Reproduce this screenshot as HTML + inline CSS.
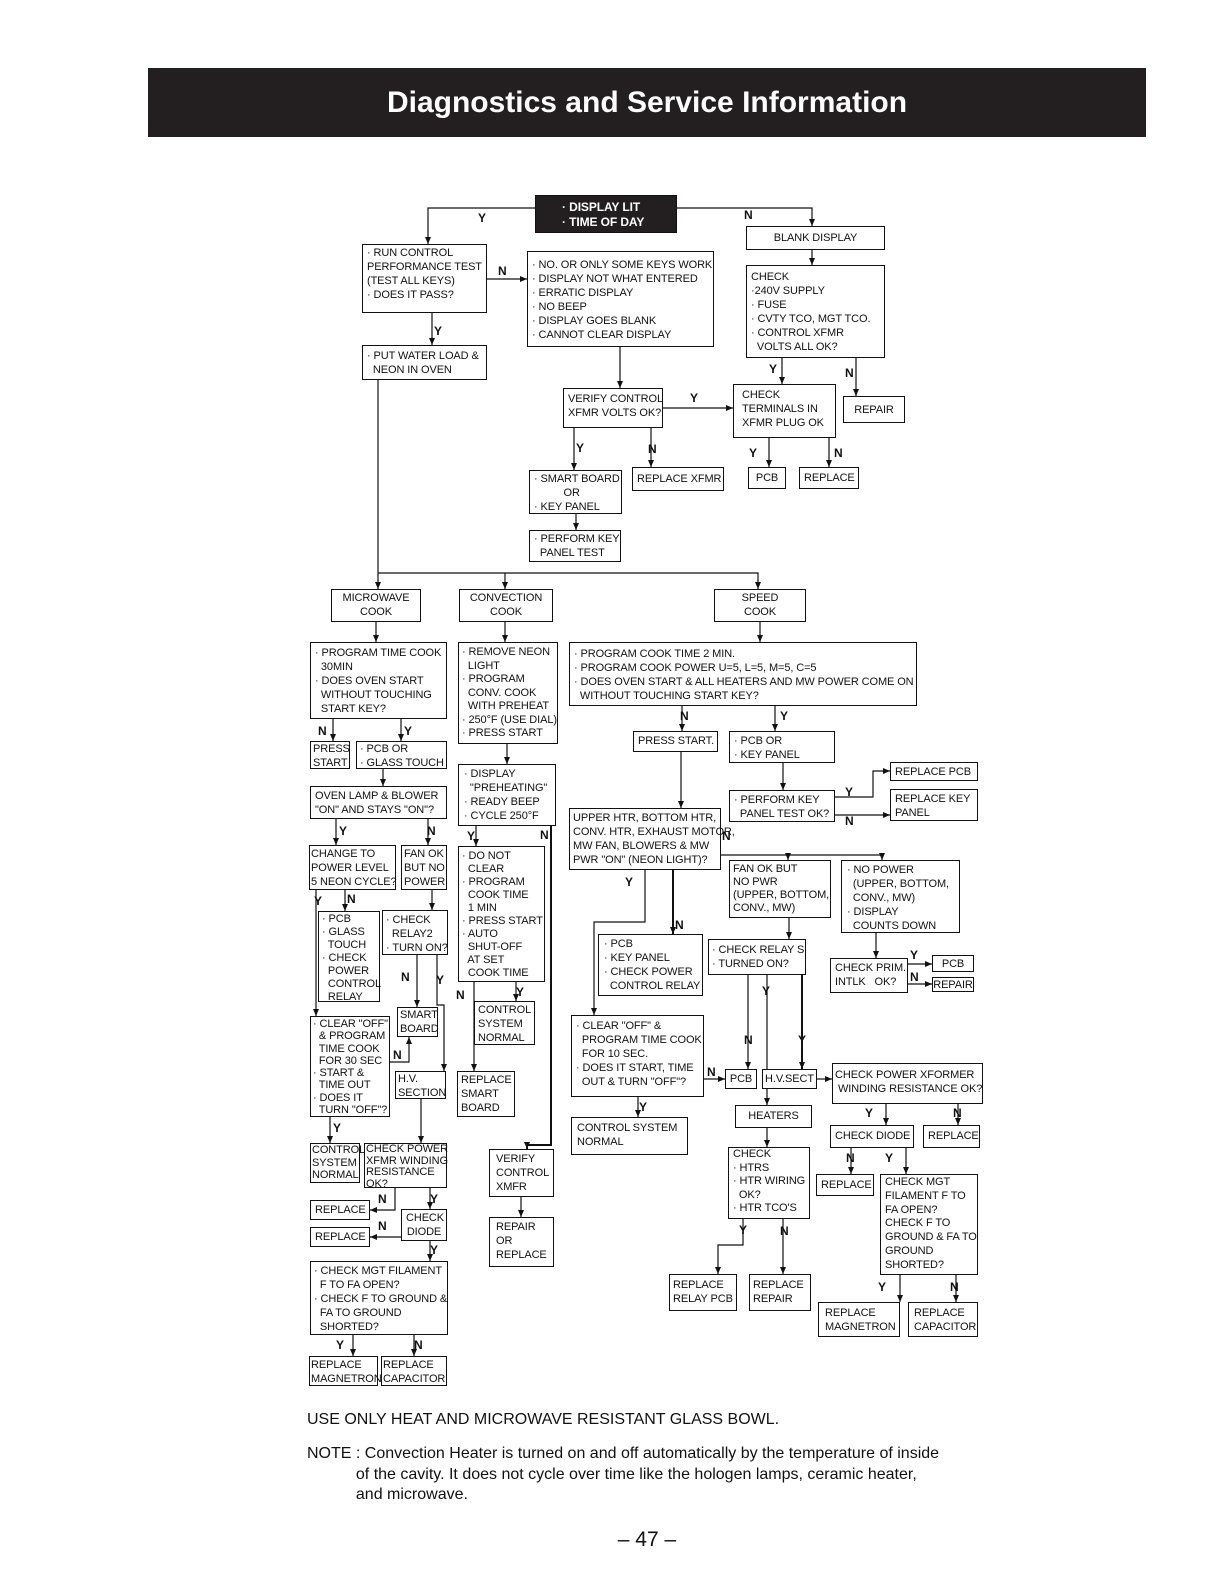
<!DOCTYPE html>
<html><head><meta charset="utf-8"><style>
body{margin:0;background:#fff;}
#p{position:relative;width:1224px;height:1584px;overflow:hidden;font-family:"Liberation Sans",sans-serif;color:#111;}
.b{position:absolute;border:1.3px solid #111;box-sizing:border-box;font-size:11px;line-height:14px;padding:1px 4px;white-space:pre;background:#fff;letter-spacing:-0.1px;}
.c{text-align:center;}
.l{position:absolute;font-size:12px;font-weight:bold;}
svg{position:absolute;left:0;top:0;}
</style></head><body><div id="p">
<div style="position:absolute;left:148px;top:68px;width:998px;height:69px;background:#231f20;color:#fff;font-weight:bold;font-size:30px;line-height:69px;text-align:center;">Diagnostics and Service Information</div>

<svg width="1224" height="1584">
<defs><marker id="a" markerWidth="8" markerHeight="8" refX="7" refY="4" orient="auto" markerUnits="userSpaceOnUse"><path d="M0,1 L7,4 L0,7 z" fill="#111"/></marker></defs>
<g fill="none" stroke="#111" stroke-width="1.2" marker-end="url(#a)">
<polyline points="535,208 428,208 428,244"/>
<polyline points="677,208 812,208 812,226"/>
<polyline points="812,250 812,265"/>
<polyline points="487,279 527,279"/>
<polyline points="432,313 432,345"/>
<polyline points="620,347 620,388"/>
<polyline points="782,358 782,384"/>
<polyline points="856,358 856,396"/>
<polyline points="663,408 733,408"/>
<polyline points="574,428 574,470"/>
<polyline points="651,428 651,467"/>
<polyline points="769,438 769,467"/>
<polyline points="829,438 829,467"/>
<polyline points="576,514 576,530"/>
<polyline points="378,380 378,589"/>
<polyline points="505,573 505,589"/>
<polyline points="378,573 758,573 758,589"/>
<polyline points="376,622 376,642"/>
<polyline points="333,719 333,741"/>
<polyline points="401,719 401,741"/>
<polyline points="383,769 383,786"/>
<polyline points="336,819 336,845"/>
<polyline points="428,819 428,845"/>
<polyline points="316,890 316,1016"/>
<polyline points="345,890 345,911"/>
<polyline points="432,890 432,910"/>
<polyline points="417,955 417,1007"/>
<polyline points="437,955 437,1005 444,1005 444,1071"/>
<polyline points="390,1062 409,1062 409,1037"/>
<polyline points="421,1099 421,1143"/>
<polyline points="330,1117 330,1143"/>
<polyline points="395,1188 395,1210 370,1210"/>
<polyline points="430,1188 430,1209"/>
<polyline points="401,1237 370,1237"/>
<polyline points="430,1241 430,1261"/>
<polyline points="353,1335 353,1356"/>
<polyline points="414,1335 414,1356"/>
<polyline points="505,622 505,642"/>
<polyline points="507,744 507,764"/>
<polyline points="476,826 476,846"/>
<polyline points="551,826 551,1145 527,1145 527,1149" stroke-width="2"/>
<polyline points="516,982 516,1001"/>
<polyline points="474,982 474,1071"/>
<polyline points="521,1197 521,1217"/>
<polyline points="760,622 760,642"/>
<polyline points="682,706 682,731"/>
<polyline points="775,706 775,731"/>
<polyline points="681,752 681,808"/>
<polyline points="783,763 783,790"/>
<polyline points="835,797 873,797 873,771 890,771"/>
<polyline points="835,815 890,815"/>
<polyline points="721,855 882,855 882,860"/>
<polyline points="788,855 788,860"/>
<polyline points="645,870 645,922 594,922 594,1015"/>
<polyline points="673,870 673,934" stroke-width="2"/>
<polyline points="789,918 789,939"/>
<polyline points="876,933 876,958"/>
<polyline points="908,964 932,964"/>
<polyline points="908,984 932,984"/>
<polyline points="748,975 748,1069"/>
<polyline points="767,975 767,1105"/>
<polyline points="802,975 802,1069" stroke-width="2"/>
<polyline points="704,1079 725,1079"/>
<polyline points="638,1097 638,1117"/>
<polyline points="817,1079 832,1079"/>
<polyline points="767,1128 767,1147"/>
<polyline points="886,1104 886,1125"/>
<polyline points="958,1104 958,1125"/>
<polyline points="851,1148 851,1174"/>
<polyline points="906,1148 906,1174"/>
<polyline points="743,1219 743,1245 718,1245 718,1274"/>
<polyline points="783,1219 783,1274"/>
<polyline points="900,1275 900,1302"/>
<polyline points="956,1275 956,1302"/>
</g></svg>

<div class="b" style="left:535px;top:195px;width:142px;height:38px;background:#231f20;color:#fff;font-weight:bold;font-size:12px;line-height:15px;padding:4px 0 0 26px;">· DISPLAY LIT
· TIME OF DAY</div>
<div class="b" style="left:362px;top:244px;width:125px;height:69px;">· RUN CONTROL
PERFORMANCE TEST
(TEST ALL KEYS)
· DOES IT PASS?</div>
<div class="b" style="left:527px;top:251px;width:187px;height:96px;padding-top:6px;">· NO. OR ONLY SOME KEYS WORK
· DISPLAY NOT WHAT ENTERED
· ERRATIC DISPLAY
· NO BEEP
· DISPLAY GOES BLANK
· CANNOT CLEAR DISPLAY</div>
<div class="b c" style="left:746px;top:226px;width:139px;height:24px;padding-top:4px;">BLANK DISPLAY</div>
<div class="b" style="left:746px;top:265px;width:139px;height:93px;padding-top:4px;">CHECK
·240V SUPPLY
· FUSE
· CVTY TCO, MGT TCO.
· CONTROL XFMR
  VOLTS ALL OK?</div>
<div class="b" style="left:362px;top:345px;width:125px;height:35px;padding-top:3px;">· PUT WATER LOAD &amp;
  NEON IN OVEN</div>
<div class="b" style="left:563px;top:388px;width:100px;height:40px;padding-top:3px;">VERIFY CONTROL
XFMR VOLTS OK?</div>
<div class="b" style="left:733px;top:384px;width:103px;height:54px;padding:3px 8px;">CHECK
TERMINALS IN
XFMR PLUG OK</div>
<div class="b c" style="left:843px;top:396px;width:62px;height:27px;padding-top:6px;">REPAIR</div>
<div class="b" style="left:529px;top:470px;width:93px;height:44px;padding-top:1px;">· SMART BOARD
          OR
· KEY PANEL</div>
<div class="b c" style="left:632px;top:467px;width:92px;height:24px;padding-top:4px;">REPLACE XFMR</div>
<div class="b c" style="left:748px;top:467px;width:38px;height:22px;padding-top:3px;">PCB</div>
<div class="b c" style="left:799px;top:467px;width:60px;height:22px;padding-top:3px;">REPLACE</div>
<div class="b" style="left:529px;top:530px;width:92px;height:32px;">· PERFORM KEY
  PANEL TEST</div>

<div class="b c" style="left:331px;top:589px;width:90px;height:33px;">MICROWAVE
COOK</div>
<div class="b c" style="left:459px;top:589px;width:94px;height:33px;">CONVECTION
COOK</div>
<div class="b c" style="left:714px;top:589px;width:92px;height:33px;">SPEED
COOK</div>
<div class="b" style="left:310px;top:642px;width:137px;height:77px;padding-top:3px;">· PROGRAM TIME COOK
  30MIN
· DOES OVEN START
  WITHOUT TOUCHING
  START KEY?</div>
<div class="b" style="left:458px;top:642px;width:100px;height:102px;padding:3px 2px 0 3px;line-height:13.5px;">· REMOVE NEON
  LIGHT
· PROGRAM
  CONV. COOK
  WITH PREHEAT
· 250°F (USE DIAL)
· PRESS START</div>
<div class="b" style="left:569px;top:642px;width:348px;height:64px;padding-top:4px;">· PROGRAM COOK TIME 2 MIN.
· PROGRAM COOK POWER U=5, L=5, M=5, C=5
· DOES OVEN START &amp; ALL HEATERS AND MW POWER COME ON
  WITHOUT TOUCHING START KEY?</div>
<div class="b" style="left:310px;top:741px;width:40px;height:28px;padding:0 2px;">PRESS
START</div>
<div class="b" style="left:356px;top:741px;width:91px;height:28px;padding:0 3px;">· PCB OR
· GLASS TOUCH</div>
<div class="b" style="left:310px;top:786px;width:137px;height:33px;padding-top:2px;">OVEN LAMP &amp; BLOWER
"ON" AND STAYS "ON"?</div>
<div class="b" style="left:458px;top:764px;width:98px;height:62px;padding:2px 5px;">· DISPLAY
  "PREHEATING"
· READY BEEP
· CYCLE 250°F</div>
<div class="b" style="left:633px;top:731px;width:85px;height:21px;padding-top:2px;">PRESS START.</div>
<div class="b" style="left:729px;top:731px;width:106px;height:32px;padding-top:2px;">· PCB OR
· KEY PANEL</div>
<div class="b" style="left:729px;top:790px;width:106px;height:32px;padding-top:2px;">· PERFORM KEY
  PANEL TEST OK?</div>
<div class="b" style="left:890px;top:762px;width:88px;height:19px;padding-top:2px;">REPLACE PCB</div>
<div class="b" style="left:890px;top:789px;width:88px;height:32px;padding-top:2px;">REPLACE KEY
PANEL</div>
<div class="b" style="left:569px;top:808px;width:152px;height:62px;padding:2px 3px;">UPPER HTR, BOTTOM HTR,
CONV. HTR, EXHAUST MOTOR,
MW FAN, BLOWERS &amp; MW
PWR "ON" (NEON LIGHT)?</div>
<div class="b" style="left:309px;top:845px;width:87px;height:45px;padding:1px 1px;">CHANGE TO
POWER LEVEL
5 NEON CYCLE?</div>
<div class="b" style="left:401px;top:845px;width:46px;height:45px;padding:1px 2px;">FAN OK
BUT NO
POWER</div>
<div class="b" style="left:458px;top:846px;width:87px;height:136px;padding:3px 3px;line-height:13px;">· DO NOT
  CLEAR
· PROGRAM
  COOK TIME
  1 MIN
· PRESS START
· AUTO
  SHUT-OFF
  AT SET
  COOK TIME</div>
<div class="b" style="left:729px;top:860px;width:102px;height:58px;padding:2px 3px;line-height:13px;">FAN OK BUT
NO PWR
(UPPER, BOTTOM,
CONV., MW)</div>
<div class="b" style="left:841px;top:860px;width:119px;height:73px;padding:2px 5px;">· NO POWER
  (UPPER, BOTTOM,
  CONV., MW)
· DISPLAY
  COUNTS DOWN</div>
<div class="b" style="left:318px;top:911px;width:62px;height:91px;padding:1px 3px;line-height:13px;">· PCB
· GLASS
  TOUCH
· CHECK
  POWER
  CONTROL
  RELAY</div>
<div class="b" style="left:382px;top:910px;width:66px;height:45px;padding:2px 3px;">· CHECK
  RELAY2
· TURN ON?</div>
<div class="b" style="left:598px;top:934px;width:105px;height:62px;padding:2px 5px;">· PCB
· KEY PANEL
· CHECK POWER
  CONTROL RELAY</div>
<div class="b" style="left:708px;top:939px;width:98px;height:36px;padding:3px 3px;">· CHECK RELAY S
· TURNED ON?</div>
<div class="b" style="left:830px;top:958px;width:78px;height:35px;padding:2px 4px;">CHECK PRIM.
INTLK   OK?</div>
<div class="b c" style="left:932px;top:955px;width:42px;height:17px;padding-top:1px;">PCB</div>
<div class="b c" style="left:932px;top:977px;width:42px;height:15px;padding:0;">REPAIR</div>
<div class="b" style="left:474px;top:1001px;width:61px;height:44px;padding:1px 3px;">CONTROL
SYSTEM
NORMAL</div>
<div class="b" style="left:397px;top:1007px;width:41px;height:30px;padding:0 2px;">SMART
BOARD</div>
<div class="b" style="left:310px;top:1016px;width:80px;height:101px;padding:1px 2px;line-height:12.3px;">· CLEAR "OFF"
  &amp; PROGRAM
  TIME COOK
  FOR 30 SEC
· START &amp;
  TIME OUT
· DOES IT
  TURN "OFF"?</div>
<div class="b" style="left:395px;top:1071px;width:51px;height:28px;padding:0 2px;">H.V.
SECTION</div>
<div class="b" style="left:457px;top:1071px;width:58px;height:46px;padding:1px 3px;">REPLACE
SMART
BOARD</div>
<div class="b" style="left:571px;top:1015px;width:133px;height:82px;padding:3px 4px;">· CLEAR "OFF" &amp;
  PROGRAM TIME COOK
  FOR 10 SEC.
· DOES IT START, TIME
  OUT &amp; TURN "OFF"?</div>
<div class="b c" style="left:725px;top:1069px;width:32px;height:20px;padding:2px 0;">PCB</div>
<div class="b c" style="left:762px;top:1069px;width:55px;height:20px;padding:2px 0;">H.V.SECT</div>
<div class="b" style="left:832px;top:1063px;width:151px;height:41px;padding:4px 2px;">CHECK POWER XFORMER
 WINDING RESISTANCE OK?</div>
<div class="b c" style="left:735px;top:1105px;width:77px;height:23px;padding-top:3px;">HEATERS</div>
<div class="b" style="left:571px;top:1117px;width:117px;height:38px;padding:3px 5px;">CONTROL SYSTEM
NORMAL</div>
<div class="b c" style="left:830px;top:1125px;width:84px;height:23px;padding-top:3px;">CHECK DIODE</div>
<div class="b c" style="left:923px;top:1125px;width:57px;height:23px;padding-top:3px;">REPLACE</div>
<div class="b" style="left:310px;top:1143px;width:50px;height:40px;padding:0 1px;line-height:12.5px;">CONTROL
SYSTEM
NORMAL</div>
<div class="b" style="left:364px;top:1143px;width:83px;height:45px;padding:0 1px;line-height:11.5px;">CHECK POWER
XFMR WINDING
RESISTANCE
OK?</div>
<div class="b" style="left:489px;top:1149px;width:65px;height:48px;padding:2px 6px;">VERIFY
CONTROL
XMFR</div>
<div class="b" style="left:728px;top:1147px;width:82px;height:72px;padding:0 4px;line-height:13.5px;">CHECK
· HTRS
· HTR WIRING
  OK?
· HTR TCO'S</div>
<div class="b c" style="left:816px;top:1174px;width:58px;height:22px;padding-top:3px;">REPLACE</div>
<div class="b" style="left:880px;top:1174px;width:98px;height:101px;padding:1px 4px;line-height:13.8px;">CHECK MGT
FILAMENT F TO
FA OPEN?
CHECK F TO
GROUND &amp; FA TO
GROUND
SHORTED?</div>
<div class="b c" style="left:310px;top:1200px;width:60px;height:20px;padding-top:2px;">REPLACE</div>
<div class="b c" style="left:310px;top:1227px;width:60px;height:20px;padding-top:2px;">REPLACE</div>
<div class="b c" style="left:401px;top:1209px;width:46px;height:32px;padding-top:1px;">CHECK
DIODE</div>
<div class="b" style="left:489px;top:1217px;width:65px;height:50px;padding:2px 6px;">REPAIR
OR
REPLACE</div>
<div class="b" style="left:310px;top:1261px;width:138px;height:74px;padding:2px 3px;">· CHECK MGT FILAMENT
  F TO FA OPEN?
· CHECK F TO GROUND &amp;
  FA TO GROUND
  SHORTED?</div>
<div class="b" style="left:669px;top:1274px;width:68px;height:37px;padding:3px 3px;">REPLACE
RELAY PCB</div>
<div class="b" style="left:749px;top:1274px;width:62px;height:37px;padding:3px 3px;">REPLACE
REPAIR</div>
<div class="b" style="left:818px;top:1302px;width:82px;height:35px;padding:3px 6px;">REPLACE
MAGNETRON</div>
<div class="b" style="left:908px;top:1302px;width:70px;height:35px;padding:3px 5px;">REPLACE
CAPACITOR</div>
<div class="b" style="left:309px;top:1356px;width:69px;height:30px;padding:1px 1px;">REPLACE
MAGNETRON</div>
<div class="b" style="left:381px;top:1356px;width:66px;height:30px;padding:1px 1px;">REPLACE
CAPACITOR</div>

<div class="l" style="left:478px;top:211px;">Y</div>
<div class="l" style="left:744px;top:208px;">N</div>
<div class="l" style="left:498px;top:264px;">N</div>
<div class="l" style="left:434px;top:324px;">Y</div>
<div class="l" style="left:769px;top:362px;">Y</div>
<div class="l" style="left:845px;top:366px;">N</div>
<div class="l" style="left:690px;top:391px;">Y</div>
<div class="l" style="left:576px;top:441px;">Y</div>
<div class="l" style="left:648px;top:442px;">N</div>
<div class="l" style="left:749px;top:446px;">Y</div>
<div class="l" style="left:834px;top:446px;">N</div>
<div class="l" style="left:318px;top:724px;">N</div>
<div class="l" style="left:404px;top:724px;">Y</div>
<div class="l" style="left:339px;top:824px;">Y</div>
<div class="l" style="left:427px;top:824px;">N</div>
<div class="l" style="left:314px;top:894px;">Y</div>
<div class="l" style="left:347px;top:892px;">N</div>
<div class="l" style="left:401px;top:970px;">N</div>
<div class="l" style="left:436px;top:973px;">Y</div>
<div class="l" style="left:393px;top:1048px;">N</div>
<div class="l" style="left:333px;top:1121px;">Y</div>
<div class="l" style="left:378px;top:1192px;">N</div>
<div class="l" style="left:430px;top:1192px;">Y</div>
<div class="l" style="left:378px;top:1219px;">N</div>
<div class="l" style="left:430px;top:1243px;">Y</div>
<div class="l" style="left:336px;top:1338px;">Y</div>
<div class="l" style="left:414px;top:1338px;">N</div>
<div class="l" style="left:467px;top:829px;">Y</div>
<div class="l" style="left:540px;top:828px;">N</div>
<div class="l" style="left:516px;top:985px;">Y</div>
<div class="l" style="left:456px;top:988px;">N</div>
<div class="l" style="left:680px;top:709px;">N</div>
<div class="l" style="left:780px;top:709px;">Y</div>
<div class="l" style="left:845px;top:785px;">Y</div>
<div class="l" style="left:845px;top:814px;">N</div>
<div class="l" style="left:722px;top:829px;">N</div>
<div class="l" style="left:625px;top:875px;">Y</div>
<div class="l" style="left:675px;top:918px;">N</div>
<div class="l" style="left:910px;top:948px;">Y</div>
<div class="l" style="left:910px;top:970px;">N</div>
<div class="l" style="left:762px;top:984px;">Y</div>
<div class="l" style="left:744px;top:1033px;">N</div>
<div class="l" style="left:798px;top:1033px;">Y</div>
<div class="l" style="left:707px;top:1065px;">N</div>
<div class="l" style="left:639px;top:1100px;">Y</div>
<div class="l" style="left:865px;top:1106px;">Y</div>
<div class="l" style="left:953px;top:1106px;">N</div>
<div class="l" style="left:846px;top:1151px;">N</div>
<div class="l" style="left:885px;top:1151px;">Y</div>
<div class="l" style="left:739px;top:1223px;">Y</div>
<div class="l" style="left:780px;top:1224px;">N</div>
<div class="l" style="left:878px;top:1280px;">Y</div>
<div class="l" style="left:950px;top:1280px;">N</div>

<div style="position:absolute;left:307px;top:1411px;font-size:16px;">USE ONLY HEAT AND MICROWAVE RESISTANT GLASS BOWL.</div>
<div style="position:absolute;left:307px;top:1444px;font-size:16px;line-height:20.5px;white-space:pre;">NOTE : Convection Heater is turned on and off automatically by the temperature of inside
           of the cavity. It does not cycle over time like the hologen lamps, ceramic heater,
           and microwave.</div>
<div style="position:absolute;left:0;width:1294px;top:1528px;font-size:21px;text-align:center;">– 47 –</div>
</div></body></html>
